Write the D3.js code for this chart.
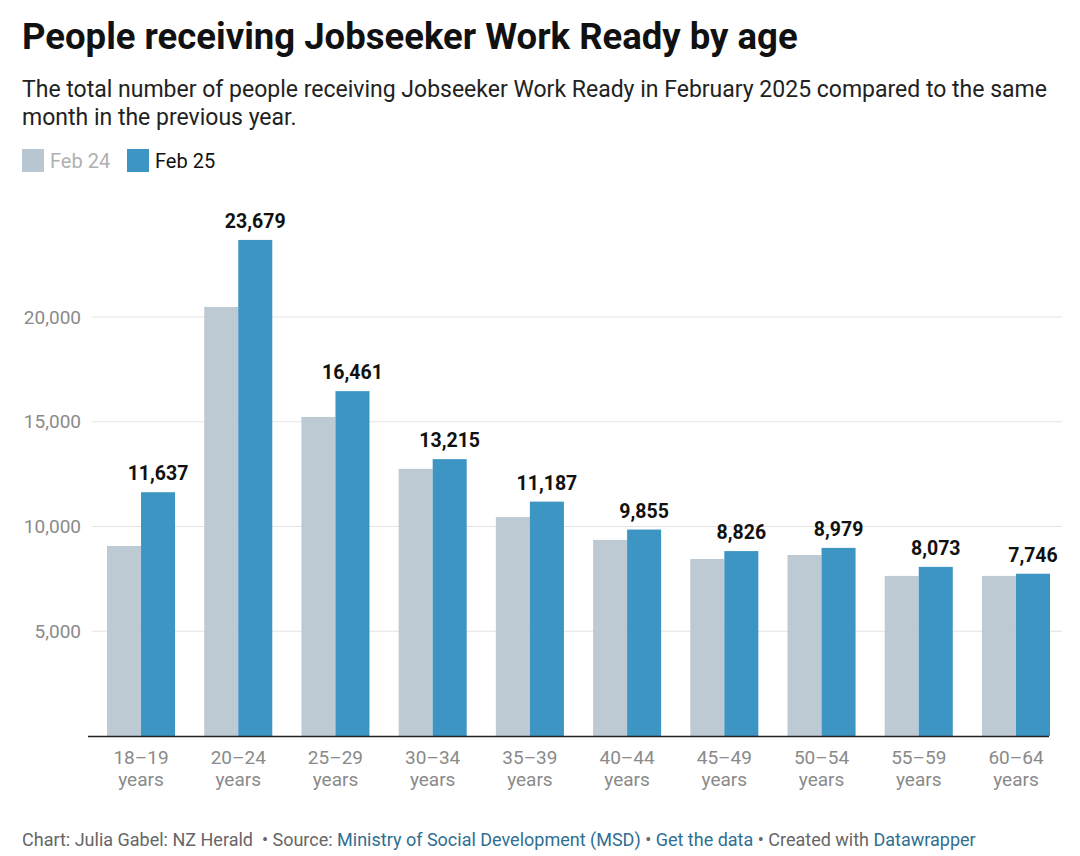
<!DOCTYPE html>
<html>
<head>
<meta charset="utf-8">
<script src="https://cdn.jsdelivr.net/npm/d3@7"></script>
<style>
  body { margin: 0; background: #fff; font-family: Roboto, sans-serif; }
  svg text { font-family: Roboto, sans-serif; }
</style>
</head>
<body>
<svg id="chart" width="1080" height="856"></svg>
<script>
// Data
const ageGroups = ['18–19', '20–24', '25–29', '30–34', '35–39', '40–44', '45–49', '50–54', '55–59', '60–64'];
const feb24 = [9070, 20480, 15230, 12750, 10450, 9360, 8450, 8640, 7640, 7640];
const feb25 = [11637, 23679, 16461, 13215, 11187, 9855, 8826, 8979, 8073, 7746];
const seriesNames = ['Feb 24', 'Feb 25'];
const yTicks = [5000, 10000, 15000, 20000];

const svg = d3.select('#chart');
const colors = { 'Feb 24': '#b9c7d2', 'Feb 25': '#3d95c4' };

// Header
svg.append('text')
  .attr('x', 22).attr('y', 49)
  .style('font-size', '36.5px').style('font-weight', 700).attr('fill', '#111')
  .text('People receiving Jobseeker Work Ready by age');

const subLines = [
  'The total number of people receiving Jobseeker Work Ready in February 2025 compared to the same',
  'month in the previous year.'
];
svg.append('g').selectAll('text')
  .data(subLines)
  .join('text')
  .attr('x', 22).attr('y', (d, i) => 97 + i * 28)
  .style('font-size', '23px').attr('fill', '#222')
  .text((d) => d);

// Legend
const legend = svg.append('g').attr('transform', 'translate(22,149)');
const legendX = [0, 105];
seriesNames.forEach((name, i) => {
  const g = legend.append('g').attr('transform', `translate(${legendX[i]},0)`);
  g.append('rect').attr('width', 22).attr('height', 23).attr('fill', colors[name]);
  g.append('text').attr('x', 28).attr('y', 18.5)
    .style('font-size', '20px')
    .attr('fill', i === 0 ? '#b0b0b0' : '#111')
    .text(name);
});

// Scales
const margin = { top: 190, bottom: 736 };
const x = d3.scaleBand()
  .domain(ageGroups)
  .range([107, 1050])
  .paddingInner(0.3);

const xInner = d3.scaleBand()
  .domain(seriesNames)
  .range([0, x.bandwidth()]);

const y = d3.scaleLinear()
  .domain([0, 5000])
  .range([margin.bottom, margin.bottom - 104.75]);

// Gridlines and y labels
const grid = svg.append('g');
grid.selectAll('line')
  .data(yTicks)
  .join('line')
  .attr('x1', 92).attr('x2', 1062)
  .attr('y1', (d) => y(d)).attr('y2', (d) => y(d))
  .attr('stroke', '#e3e3e3').attr('stroke-width', 1);

grid.selectAll('text')
  .data(yTicks)
  .join('text')
  .attr('x', 81).attr('y', (d) => y(d) + 6.5)
  .attr('text-anchor', 'end')
  .style('font-size', '19px').attr('fill', '#8a8a8a')
  .text((d) => d3.format(',')(d));

// Bars
const groups = svg.append('g').selectAll('g')
  .data(ageGroups.map((a, i) => ({ age: a, vals: [feb24[i], feb25[i]] })))
  .join('g')
  .attr('transform', (d) => `translate(${x(d.age)},0)`);

groups.selectAll('rect')
  .data((d) => d.vals.map((v, j) => ({ key: seriesNames[j], value: v })))
  .join('rect')
  .attr('x', (d) => xInner(d.key))
  .attr('y', (d) => y(d.value))
  .attr('width', xInner.bandwidth())
  .attr('height', (d) => y(0) - y(d.value))
  .attr('fill', (d) => colors[d.key])
  .attr('fill-opacity', (d) => (d.key === 'Feb 24' ? 0.95 : 1));

// Value labels for Feb 25
groups.append('text')
  .attr('x', xInner('Feb 25') + xInner.bandwidth() / 2)
  .attr('y', (d) => y(d.vals[1]) - 12)
  .attr('text-anchor', 'middle')
  .style('font-size', '19.5px').style('font-weight', 700).attr('fill', '#111')
  .text((d) => d3.format(',')(d.vals[1]));

// Baseline
svg.append('line')
  .attr('x1', 88).attr('x2', 1049)
  .attr('y1', y(0) + 0.5).attr('y2', y(0) + 0.5)
  .attr('stroke', '#222').attr('stroke-width', 1.5);

// X labels
const xLabels = svg.append('g').selectAll('text')
  .data(ageGroups)
  .join('text')
  .attr('x', (d) => x(d) + x.bandwidth() / 2)
  .attr('y', 764)
  .attr('text-anchor', 'middle')
  .style('font-size', '19px').attr('fill', '#8a8a8a');
xLabels.append('tspan').attr('x', (d) => x(d) + x.bandwidth() / 2).text((d) => d);
xLabels.append('tspan').attr('x', (d) => x(d) + x.bandwidth() / 2).attr('dy', 22).text('years');

// Footer
const footer = svg.append('text')
  .attr('x', 22).attr('y', 846)
  .attr('xml:space', 'preserve')
  .style('white-space', 'pre')
  .style('font-size', '18px').attr('fill', '#666');
const footParts = [
  ['Chart: Julia Gabel: NZ Herald  • Source: ', '#666'],
  ['Ministry of Social Development (MSD)', '#2f6f91'],
  [' • ', '#666'],
  ['Get the data', '#2f6f91'],
  [' • Created with ', '#666'],
  ['Datawrapper', '#2f6f91']
];
footParts.forEach(([t, c]) => {
  footer.append('tspan').attr('fill', c).text(t);
});
</script>
</body>
</html>
